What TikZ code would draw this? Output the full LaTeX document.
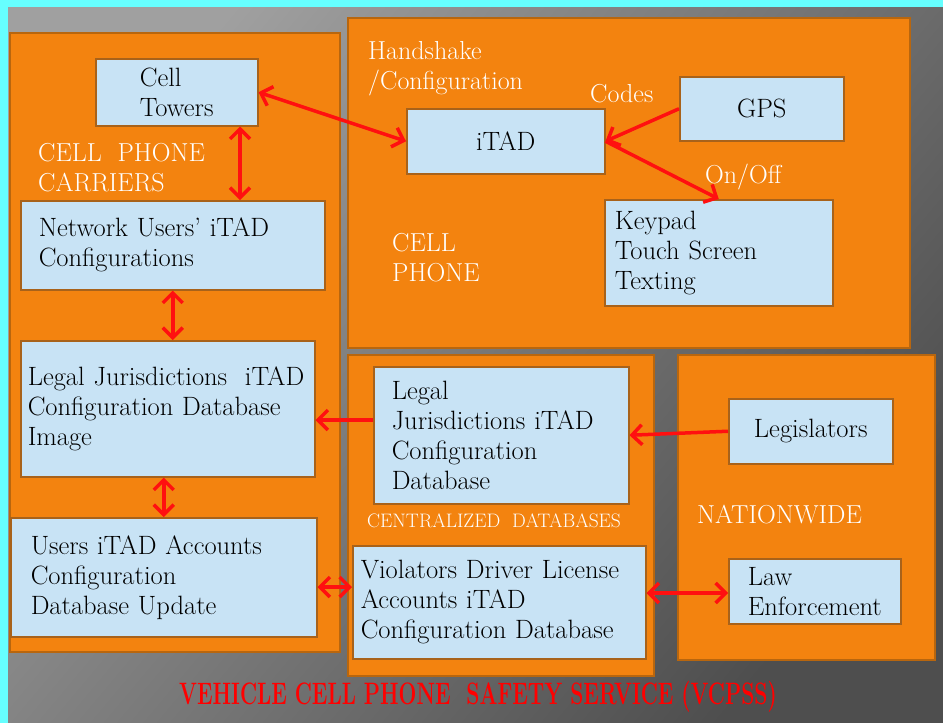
\documentclass[tikz,border=0pt]{standalone}
\usetikzlibrary{arrows.meta}
\definecolor{frame}{HTML}{66FFFF}
\definecolor{bglight}{HTML}{A0A0A0}
\definecolor{bgdark}{HTML}{4E4E4E}
\definecolor{panelfill}{HTML}{F3830F}
\definecolor{panelline}{HTML}{B8660E}
\definecolor{boxfill}{HTML}{C8E3F5}
\definecolor{boxline}{HTML}{A8621A}
\definecolor{linkred}{HTML}{FF1010}
\begin{document}
\begin{tikzpicture}[x=1pt,y=-1pt,
    panel/.style={fill=panelfill,draw=panelline,line width=2},
    box/.style={fill=boxfill,draw=boxline,line width=1.5,anchor=north west,align=left,inner sep=0,
      font=\fontsize{26.5}{30}\selectfont},
    lbl/.style={text=white,anchor=west,align=left,inner sep=0,font=\fontsize{26}{30}\selectfont},
    link/.style={draw=linkred,line width=3.5,-{Straight Barb[length=10,width=20]}},
    dbl/.style={link,{Straight Barb[length=10,width=20]}-{Straight Barb[length=10,width=20]}}]
  \fill[frame] (0,0) rectangle (943,723);
  \shade[top color=bglight,bottom color=bgdark,shading angle=50] (8,7) rectangle (943,723);
  \draw[panel] (10,33) rectangle (340,652);
  \draw[panel] (348,18) rectangle (910,348);
  \draw[panel] (348,355) rectangle (654,676);
  \draw[panel] (678,355) rectangle (935,660);
  % boxes
  \node[box,minimum width=162,minimum height=67] (ct) at (95,58) {Cell\\Towers};
  \node[box,minimum width=304,minimum height=89,text width=268] (nu) at (20,200) {Network Users' iTAD\\Configurations};
  \node[box,minimum width=294,minimum height=136,text width=280] (li) at (20,340) {Legal Jurisdictions~ iTAD\\Configuration Database\\Image};
  \node[box,minimum width=306,minimum height=119,text width=266] (ua) at (10,517) {Users iTAD Accounts\\Configuration\\Database Update};
  \node[box,minimum width=198,minimum height=65] (itad) at (406,108) {iTAD};
  \node[box,minimum width=164,minimum height=64] (gps) at (679,76) {GPS};
  \node[box,minimum width=228,minimum height=106,text width=208] (kp) at (604,199) {Keypad\\Touch Screen\\Texting};
  \node[box,minimum width=255,minimum height=137,text width=219] (lc) at (373,366) {Legal\\Jurisdictions iTAD\\Configuration\\Database};
  \node[box,minimum width=293,minimum height=113,text width=277] (vi) at (352,545) {Violators Driver License\\Accounts iTAD\\Configuration Database};
  \node[box,minimum width=164,minimum height=65] (lg) at (728,398) {Legislators};
  \node[box,minimum width=172,minimum height=65] (le) at (728,558) {Law\\Enforcement};
  % labels
  \node[lbl] (hs) at (368,69) {Handshake\\/Configuration};
  \node[lbl] (codes) at (590,94) {Codes};
  \node[lbl] (onoff) at (705,177) {On/Off};
  \node[lbl] (carriers) at (38,168) {CELL~~PHONE\\CARRIERS};
  \node[lbl] (phone) at (392,258) {CELL\\PHONE};
  \node[lbl,font=\fontsize{19.5}{22}\selectfont] (central) at (367,521) {CENTRALIZED~~DATABASES};
  \node[lbl] (nation) at (697,515) {NATIONWIDE};
  \node[text=red,inner sep=0,font=\fontsize{31}{34}\selectfont\bfseries] (title) at (478,697)
    {\scalebox{0.68}[1]{VEHICLE CELL PHONE~~SAFETY SERVICE (VCPSS)}};
  % links
  \draw[dbl] (ct.east) -- (itad.west);
  \draw[dbl] (ct.south -| 240,0) -- (nu.north -| 240,0);
  \draw[dbl] (nu.south) -- (li.north -| nu.south);
  \draw[dbl] (li.south -| ua.north) -- (ua.north);
  \draw[link] (lc.west |- 0,420) -- (li.east |- 0,420);
  \draw[link] (lg.west) -- (lc.east);
  \draw[dbl] (ua.east |- 0,587) -- (vi.west |- 0,587);
  \draw[dbl] (vi.east |- 0,593) -- (le.west |- 0,593);
  \draw[link] (gps.west) -- (itad.east);
  \draw[link] (itad.east) -- (kp.north);
\end{tikzpicture}
\end{document}
